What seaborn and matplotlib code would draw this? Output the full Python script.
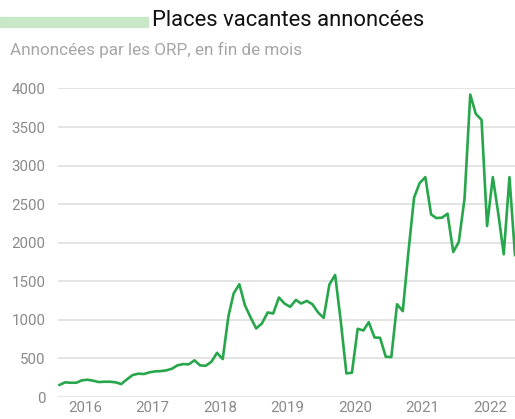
import pandas as pd
import matplotlib.pyplot as plt
import seaborn as sns

# monthly values, Aug 2015 - May 2022
start_month = "2015-08-01"
vacancies = [
    155, 190, 185, 185, 216,
    224, 211, 194, 198, 198, 190, 168, 229, 285, 302, 298, 320,
    332, 336, 345, 366, 410, 427, 423, 475, 410, 405, 457, 573,
    492, 1048, 1342, 1462, 1190, 1031, 889, 954, 1096, 1083, 1290, 1212,
    1169, 1259, 1212, 1246, 1203, 1096, 1026, 1458, 1583, 996, 306, 315,
    884, 863, 970, 772, 768, 522, 518, 1203, 1113, 1870, 2584, 2773,
    2851, 2368, 2320, 2325, 2377, 1880, 2010, 2571, 3921, 3671, 3593, 2217,
    2851, 2355, 1850, 2851, 1837,
]
years = [2016, 2017, 2018, 2019, 2020, 2021, 2022]
y_ticks = [0, 500, 1000, 1500, 2000, 2500, 3000, 3500, 4000]

dates = pd.date_range(start_month, periods=len(vacancies), freq="MS") + pd.Timedelta(days=14)
df = pd.DataFrame({"date": dates, "value": vacancies})

sns.set_style("white")
plt.rcParams["font.family"] = ["Roboto", "DejaVu Sans"]

fig = plt.figure(figsize=(5.15, 4.19), dpi=100)
ax = fig.add_axes([0.1126, 0.0525, 0.8874, 0.7363])

sns.lineplot(data=df, x="date", y="value", ax=ax, color="#28a64b", linewidth=1.9)

ax.set_ylim(0, 4000)
ax.set_yticks(y_ticks)
ax.set_xlim(dates[0] - pd.Timedelta(days=7), dates[-1])
ax.set_xticks([pd.Timestamp(f"{y}-01-01") for y in years])
ax.set_xticklabels([str(y) for y in years])
ax.set_xlabel("")
ax.set_ylabel("")
ax.grid(axis="y", color="#dcdcdc", linewidth=1.1)
ax.grid(axis="x", visible=False)
ax.set_axisbelow(True)
for s in ax.spines.values():
    s.set_visible(False)
ax.tick_params(axis="both", length=0, labelsize=10.8, labelcolor="#8a8a8a")
ax.tick_params(axis="y", pad=9)
ax.tick_params(axis="x", pad=3)

# title with green bar
fig.patches.append(plt.Rectangle((0, 1 - 27.5 / 419), 148 / 515, 10 / 419,
                                 transform=fig.transFigure, color="#c8e8c8", zorder=0))
fig.text(152 / 515, 1 - 20 / 419, "Places vacantes annoncées", fontsize=15.8,
         color="#111111", va="center", ha="left")
fig.text(10 / 515, 1 - 50 / 419, "Annoncées par les ORP, en fin de mois", fontsize=12.3,
         color="#a6a6a6", va="center", ha="left")

fig.savefig("out.png", dpi=100)
